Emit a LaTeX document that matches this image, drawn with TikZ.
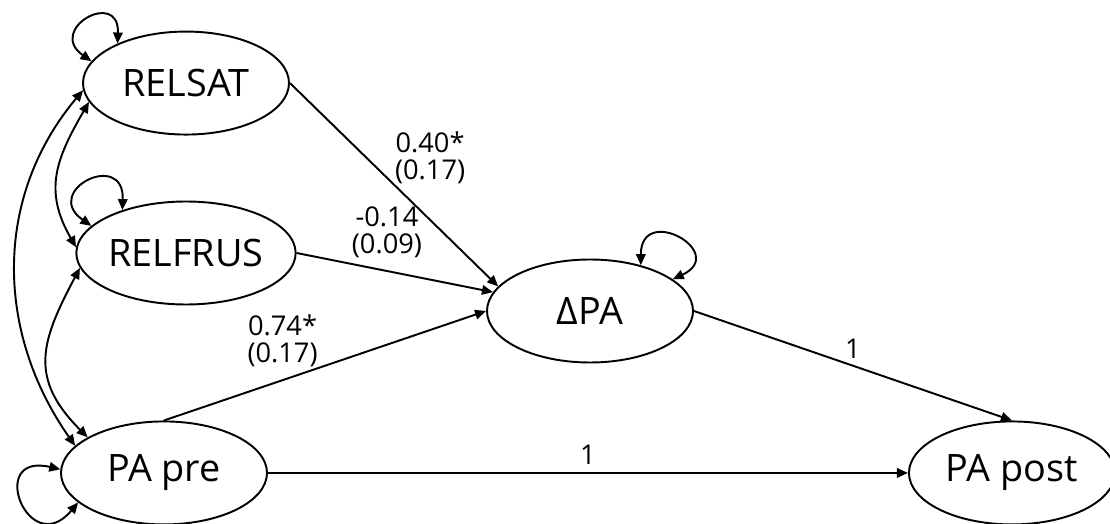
\documentclass[tikz,border=0pt]{standalone}
\usepackage{fontspec}
\setmainfont{Open Sans}
\usetikzlibrary{positioning, arrows.meta, shapes.geometric}

\begin{document}
\begin{tikzpicture}[
     x=0.2mm, y=0.2mm,
     node distance = 13mm and 13mm,
     line width=1.1pt,
        lat/.style = {ellipse, draw, minimum width=41.2mm, minimum height=20.6mm,
                      inner sep=0pt, font=\fontsize{21.5}{26}\selectfont},
        lbl/.style = {font=\fontsize{15.5}{15.5}\selectfont, align=center, inner sep=1pt},
        arr/.style = {-{Triangle[length=2.2mm,width=1.9mm]}},
        cov/.style = {{Triangle[length=2.2mm,width=1.9mm]}-{Triangle[length=2.2mm,width=1.9mm]}}
                        ]
\useasboundingbox (0,0) rectangle (1110,523);
\node (relfrus) [lat] at (186,270) {RELFRUS};
\node (relsat)  [lat, above =of relfrus] {RELSAT};
\node (papre)   [lat, below =23mm of relfrus, xshift=-4.4mm] {PA pre};
\node (dpa)     [lat] at (590,212) {ΔPA};
\node (papost)  [lat, right =128mm of papre] {PA post};
% regression paths
\draw[arr] (relsat.east) to node[lbl, pos=0.5, anchor=south west, inner sep=0pt] {0.40*\\(0.17)} (dpa.165);
\draw[arr] (relfrus.east) to node[lbl, pos=0.46, above=2mm] {-0.14\\(0.09)} (dpa.169);
\draw[arr] (papre.north) to node[lbl, pos=0.48, anchor=south east, inner sep=0pt] {0.74*\\(0.17)} (dpa.west);
\draw[arr] (dpa.east) to node[lbl, midway, above=1mm] {1} (papost.north);
\draw[arr] (papre.east) to node[lbl, midway, above=1.2mm] {1} (papost.west);
% covariances
\draw[cov] (relsat.184) to[out=230, in=125] (papre.163);
\draw[cov] (relsat.191) to[out=240, in=120, looseness=1.15] (relfrus.177);
\draw[cov] (relfrus.188) to[out=242, in=135, looseness=1.26] (papre.155);
% variances
\draw[cov] (relsat.150) to[out=88, in=145, looseness=4.5] (relsat.167);
\draw[cov] (relfrus.146) to[out=88, in=145, looseness=4.5] (relfrus.164);
\draw[cov] (papre.178) to[out=167, in=230, looseness=5.2] (papre.199);
\draw[cov] (dpa.42) to[out=90, in=25, looseness=4.6] (dpa.21);
\end{tikzpicture}
\end{document}
